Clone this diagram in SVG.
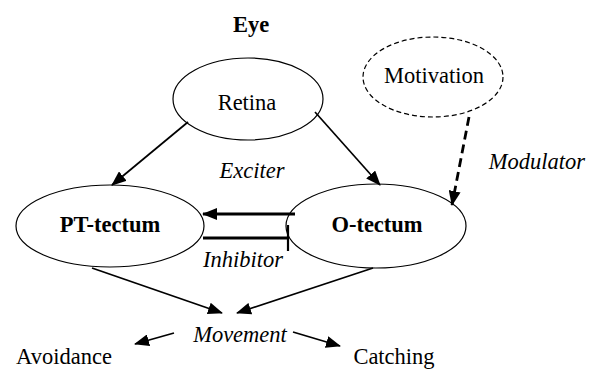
<svg xmlns="http://www.w3.org/2000/svg" width="597" height="369" viewBox="0 0 597 369">
<defs>
<style>
text{font-family:"Liberation Serif","Times New Roman","DejaVu Serif",serif;font-size:22.5px;fill:#000;text-anchor:middle}
.b{font-weight:bold}
.i{font-style:italic}
.node{fill:#fff;stroke:#000;stroke-width:1.2}
.dash{stroke-dasharray:5 3}
.c{fill:none;stroke:#000;stroke-width:1.7}
.thick{stroke-width:2.8}
.ddash{stroke-dasharray:9 5}
.bar{stroke-width:2.2}
</style>
<marker id="ah" markerUnits="userSpaceOnUse" markerWidth="15" markerHeight="12" viewBox="0 0 15 12" refX="14" refY="6" orient="auto">
<path d="M0,0 L15,6 L0,12 z" fill="#000"/>
</marker>
</defs>
<rect width="597" height="369" fill="#fff"/>
<g id="eye"><text class="b" x="251" y="32">Eye</text></g>
<g id="retina"><ellipse class="node" cx="248" cy="99" rx="75" ry="41"/><text x="247" y="110">Retina</text></g>
<g id="motivation"><ellipse class="node dash" cx="433" cy="77" rx="70" ry="40"/><text x="434" y="83">Motivation</text></g>
<g id="pt-tectum"><ellipse class="node" cx="110" cy="226" rx="94" ry="41"/><text class="b" x="110" y="232">PT-tectum</text></g>
<g id="o-tectum"><ellipse class="node" cx="376" cy="226" rx="90" ry="42"/><text class="b" x="377" y="232">O-tectum</text></g>
<g id="movement"><text class="i" x="240" y="342">Movement</text></g>
<g id="avoidance"><text x="64" y="364">Avoidance</text></g>
<g id="catching"><text x="394" y="364">Catching</text></g>
<g id="connectors">
<line class="c" x1="188" y1="122" x2="112" y2="185" marker-end="url(#ah)"/>
<line class="c" x1="315" y1="112" x2="380" y2="185" marker-end="url(#ah)"/>
<line class="c thick ddash" x1="469" y1="117" x2="452" y2="205" marker-end="url(#ah)"/>
<line class="c thick" x1="295" y1="214" x2="203" y2="214" marker-end="url(#ah)"/>
<line class="c thick" x1="203" y1="238" x2="288" y2="238"/>
<line class="c bar" x1="288" y1="225" x2="288" y2="251"/>
<line class="c" x1="92" y1="268" x2="222" y2="313" marker-end="url(#ah)"/>
<line class="c" x1="373" y1="268" x2="237" y2="313" marker-end="url(#ah)"/>
<line class="c" x1="174" y1="333" x2="135" y2="344" marker-end="url(#ah)"/>
<line class="c" x1="293" y1="332" x2="340" y2="346" marker-end="url(#ah)"/>
<text class="i" x="252" y="178">Exciter</text>
<text class="i" x="243" y="267">Inhibitor</text>
<text class="i" x="537" y="169">Modulator</text>
</g>
</svg>
